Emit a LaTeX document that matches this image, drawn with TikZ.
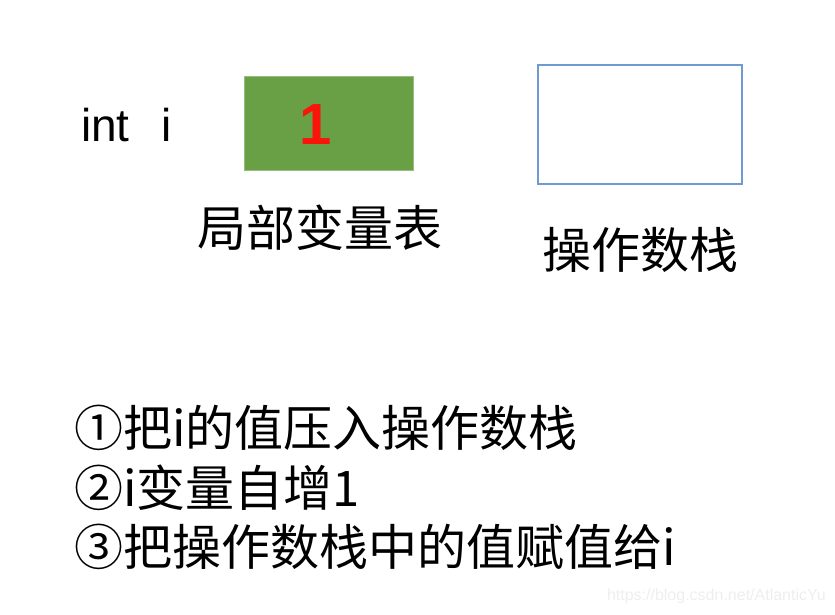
\documentclass[tikz,border=0pt]{standalone}
\usepackage{fontspec}
\setmainfont{Liberation Sans}
\newfontfamily\cjk{Noto Sans CJK SC}
\definecolor{boxgreen}{RGB}{106,160,69}
\definecolor{boxblue}{RGB}{111,155,208}
\definecolor{numred}{RGB}{250,20,10}
\definecolor{wmgray}{RGB}{238,238,238}
\tikzset{
  lbl/.style={inner sep=0pt, font=\cjk\fontsize{49}{49}\selectfont},
  stepline/.style={inner sep=0pt, anchor=west, font=\cjk\fontsize{49}{49}\selectfont}
}
\begin{document}
\begin{tikzpicture}[x=1pt,y=-1pt]
\useasboundingbox (0,0) rectangle (835,615);
\node[inner sep=0pt, anchor=base west, font=\fontsize{46}{46}\selectfont] (decl) at (81,142) {int\hspace{0.7em}i};
\node[draw=boxgreen!70!white, line width=1pt, fill=boxgreen, minimum width=169pt, minimum height=93pt, inner sep=0pt] (lvt) at (328.5,123.5) {};
\node[inner sep=0pt, text=numred, font=\bfseries\fontsize{58}{58}\selectfont] (val) at (316,125) {1};
\node[draw=boxblue, line width=2.5pt, minimum width=204pt, minimum height=119pt, inner sep=0pt] (ops) at (640,124.5) {};
\node[lbl] (lvtlabel) at (320,228) {局部变量表};
\node[lbl] (opslabel) at (640,250) {操作数栈};
\node[stepline] (s1) at (74,428) {①把i的值压入操作数栈};
\node[stepline] (s2) at (74,488) {②i变量自增1};
\node[stepline] (s3) at (74,547) {③把操作数栈中的值赋值给i};
\node[inner sep=0pt, anchor=east, text=wmgray, font=\fontsize{16}{16}\selectfont] (wm) at (826,596) {https://blog.csdn.net/AtlanticYu};
\end{tikzpicture}
\end{document}
